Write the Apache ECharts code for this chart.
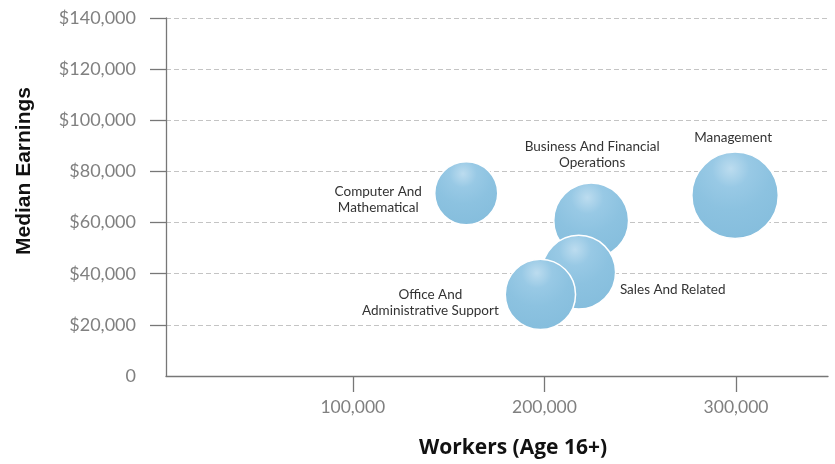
<!DOCTYPE html>
<html>
<head>
<meta charset="utf-8">
<script src="https://cdn.jsdelivr.net/npm/echarts@6/dist/echarts.min.js"></script>
<style>html,body{margin:0;padding:0;background:#fff;}#chart{width:835px;height:464px;}</style>
</head>
<body>
<div id="chart"></div>
<script>
var occupations = ["Computer And\nMathematical", "Business And Financial\nOperations", "Management", "Sales And Related", "Office And\nAdministrative Support"];
var workers = [159200, 224400, 299500, 217900, 197900];
var earnings = [71500, 60800, 70700, 40600, 31900];
var xTickValues = [100000, 200000, 300000];
var yTickValues = [0, 20000, 40000, 60000, 80000, 100000, 120000, 140000];

// label placement (layout only)
var labelOffsets = [[-88, 6], [1, -66], [-2, -58], [94, 17], [-110, 8]];

var chart = echarts.init(document.getElementById('chart'));
var data = occupations.map(function (name, i) {
  return {
    name: name,
    value: [workers[i], earnings[i]],
    label: { offset: labelOffsets[i] }
  };
});

var bubbleColor = {
  type: 'radial', x: 0.45, y: 0.2, r: 0.85,
  colorStops: [
    { offset: 0, color: '#bcdcef' },
    { offset: 0.25, color: '#98c9e5' },
    { offset: 0.55, color: '#8cc2e0' },
    { offset: 0.9, color: '#86bedd' },
    { offset: 1, color: '#7ab3d6' }
  ]
};

chart.setOption({
  animation: false,
  grid: { left: 166, right: 7, top: 18, bottom: 83, containLabel: false },
  xAxis: {
    type: 'value',
    min: 2500,
    max: 348000,
    name: 'Workers (Age 16+)',
    nameLocation: 'middle',
    nameGap: 62,
    nameTextStyle: { fontFamily: 'Open Sans', fontWeight: 'bold', fontSize: 21, color: '#111', padding: [0, 0, 0, 32] },
    axisLine: { show: true, lineStyle: { color: '#777', width: 1.3 } },
    axisTick: { show: true, length: 16, lineStyle: { color: '#777', width: 1.3 }, customValues: xTickValues },
    axisLabel: {
      customValues: xTickValues,
      margin: 22,
      fontFamily: 'Lato', fontSize: 17.5, color: '#808080',
      formatter: function (v) { return v.toLocaleString('en-US'); }
    },
    splitLine: { show: false }
  },
  yAxis: {
    type: 'value',
    min: 0,
    max: 140000,
    interval: 20000,
    name: 'Median Earnings',
    nameLocation: 'middle',
    nameGap: 131,
    nameRotate: 90,
    nameTextStyle: { fontFamily: 'Liberation Sans', fontWeight: 'bold', fontSize: 21, color: '#111', padding: [0, 0, 0, 52] },
    axisLine: { show: true, lineStyle: { color: '#777', width: 1.3 } },
    axisTick: { show: true, length: 16, lineStyle: { color: '#777', width: 1.3 }, customValues: yTickValues.slice(1) },
    axisLabel: {
      margin: 30,
      fontFamily: 'Lato', fontSize: 18, color: '#808080',
      formatter: function (v) { return v === 0 ? '0' : '$' + v.toLocaleString('en-US'); }
    },
    splitLine: { show: true, lineStyle: { color: '#c4c4c4', type: [5, 3], width: 1 } }
  },
  series: [{
    type: 'scatter',
    data: data,
    symbolSize: function (val) { return 0.158 * Math.sqrt(val[0]); },
    itemStyle: { color: bubbleColor, borderColor: '#ffffff', borderWidth: 1.5, opacity: 1 },
    label: {
      show: true,
      position: 'inside',
      align: 'center',
      verticalAlign: 'middle',
      formatter: function (p) { return p.name; },
      fontFamily: 'Lato', fontSize: 13.5, lineHeight: 16, color: '#333'
    },
    emphasis: { disabled: true }
  }]
});
</script>
</body>
</html>
